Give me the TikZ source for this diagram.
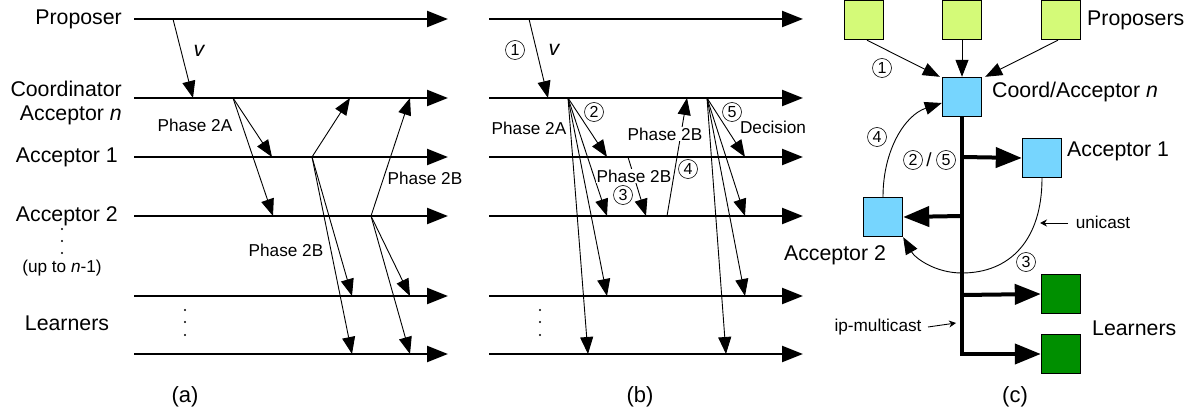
\documentclass[tikz,border=0pt]{standalone}
\usepackage{fontspec}
\setmainfont{Liberation Sans}
\usetikzlibrary{arrows.meta}
\definecolor{propc}{HTML}{D4FA78}
\definecolor{accc}{HTML}{76D5FE}
\definecolor{learnc}{HTML}{008F00}
\begin{document}
\begin{tikzpicture}[x=1pt,y=-1pt,
  tl/.style={line width=2.4pt,-{Triangle[length=21pt,width=16pt]}},
  msg/.style={line width=0.9pt,-{Triangle[length=17pt,width=13pt]}},
  bus/.style={line width=4pt},
  busarr/.style={line width=4pt,-{Triangle[length=26pt,width=20pt]}},
  thin/.style={line width=0.9pt,-{Stealth[length=7pt,width=7pt]}},
  lbl/.style={font=\fontsize{21.3}{25}\selectfont,inner sep=0pt},
  sm/.style={font=\fontsize{17.2}{20}\selectfont,inner sep=0pt},
  cn/.style={circle,draw,line width=0.6pt,minimum size=19pt,inner sep=0pt,font=\fontsize{16}{18}\selectfont},
  wl/.style={sm,fill=white,inner sep=1pt},
  box/.style={draw,line width=1.4pt,minimum size=39pt,inner sep=0pt},
  dot/.style={fill,circle,inner sep=0pt,minimum size=2.4pt}]
\useasboundingbox (0,0) rectangle (1197,414);
% ---------------- timelines (a) and (b)
\foreach \n/\y in {0/19,1/98,2/157,3/216,4/296,5/354}{
  \coordinate (aL\n) at (134,\y); \coordinate (aR\n) at (448,\y);
  \coordinate (bL\n) at (489,\y); \coordinate (bR\n) at (803,\y);
  \draw[tl] (aL\n) -- (aR\n);
  \draw[tl] (bL\n) -- (bR\n);
}
% row labels
\node[lbl,anchor=east] (lprop) at (122,19) {Proposer};
\node[lbl,anchor=east,align=right] (lcoord) at (122,103) {Coordinator\\[-1pt]Acceptor \textit{n}};
\node[lbl,anchor=east] (lacc1) at (118,157) {Acceptor 1};
\node[lbl,anchor=east] (lacc2) at (118,216) {Acceptor 2};
\node[dot] (d1) at (62,229) {}; \node[dot] (d2) at (62,241) {}; \node[dot] (d3) at (62,253) {};
\node[sm] (lupto) at (62,268) {(up to \textit{n}-1)};
\node[lbl] (llearn) at (67,323) {Learners};
% ---------------- panel (a)
\coordinate (av0) at (173,19); \coordinate (av1) at (193,98);
\draw[msg] (av0) -- (av1);
\node[lbl,font=\itshape\fontsize{21.3}{25}\selectfont] (av) at (199,51) {v};
\coordinate (a2a) at (233,98);
\coordinate (a2a1) at (272,157); \coordinate (a2a2) at (273,216);
\draw[msg] (a2a) -- (a2a1);
\draw[msg] (a2a) -- (a2a2);
\node[sm] (aph2a) at (195,125) {Phase 2A};
\coordinate (ab1) at (312,157);
\draw[msg] (ab1) -- (350,98) coordinate (ab1c);
\draw[msg] (ab1) -- (352,296) coordinate (ab1l1);
\draw[msg] (ab1) -- (352,354) coordinate (ab1l2);
\coordinate (ab2) at (371,216);
\draw[msg] (ab2) -- (410,98) coordinate (ab2c);
\draw[msg] (ab2) -- (410,296) coordinate (ab2l1);
\draw[msg] (ab2) -- (410,354) coordinate (ab2l2);
\node[sm] (aph2b1) at (425,178) {Phase 2B};
\node[sm] (aph2b2) at (286,250) {Phase 2B};
\node[dot] (ad1) at (185,310) {}; \node[dot] (ad2) at (185,322) {}; \node[dot] (ad3) at (185,335) {};
\node[lbl,font=\fontsize{22}{26}\selectfont] (capa) at (185,397) {(a)};
% ---------------- panel (b)
\coordinate (bv0) at (529,19); \coordinate (bv1) at (548,98);
\draw[msg] (bv0) -- (bv1);
\node[cn] (bn1) at (515,50) {1};
\node[lbl,font=\itshape\fontsize{21.3}{25}\selectfont] (bv) at (554,50) {v};
\coordinate (b2a) at (568,98);
\draw[msg] (b2a) -- (607,157) coordinate (b2a1);
\draw[msg] (b2a) -- (607,216) coordinate (b2a2);
\draw[msg] (b2a) -- (607,296) coordinate (b2a3);
\draw[msg] (b2a) -- (588,354) coordinate (b2a4);
\node[cn] (bn2) at (594,112) {2};
\node[sm] (bph2a) at (529,128) {Phase 2A};
\coordinate (b3s) at (628,157); \coordinate (b3e) at (646,216);
\draw[msg] (b3s) -- (b3e);
\node[wl] (bph2b3) at (634,176) {Phase 2B};
\node[cn] (bn3) at (623,195) {3};
\coordinate (b4s) at (667,216); \coordinate (b4e) at (687,98);
\draw[msg] (b4s) -- (b4e);
\node[wl] (bph2b4) at (665,134) {Phase 2B};
\node[cn] (bn4) at (688,169) {4};
\coordinate (b5) at (707,98);
\draw[msg] (b5) -- (745,157) coordinate (b51);
\draw[msg] (b5) -- (745,216) coordinate (b52);
\draw[msg] (b5) -- (745,296) coordinate (b53);
\draw[msg] (b5) -- (726,354) coordinate (b54);
\node[cn] (bn5) at (732,112) {5};
\node[sm] (bdec) at (773,127) {Decision};
\node[dot] (bd1) at (540,310) {}; \node[dot] (bd2) at (540,322) {}; \node[dot] (bd3) at (540,335) {};
\node[lbl,font=\fontsize{22}{26}\selectfont] (capb) at (640,397) {(b)};
% ---------------- panel (c)
\node[box,fill=propc] (p1) at (864,20) {};
\node[box,fill=propc] (p2) at (962,20) {};
\node[box,fill=propc] (p3) at (1061,20) {};
\node[lbl,anchor=west] (lprops) at (1087,20) {Proposers};
\node[box,fill=accc] (co) at (962,97) {};
\node[lbl,anchor=west] (lco) at (992,92) {Coord/Acceptor \textit{n}};
\node[box,fill=accc] (c1) at (1042,158) {};
\node[lbl,anchor=west] (lc1) at (1067,151) {Acceptor 1};
\node[box,fill=accc] (c2) at (883,217) {};
\node[lbl] (lc2) at (835,255) {Acceptor 2};
\node[box,fill=learnc] (l1) at (1061,294) {};
\node[box,fill=learnc] (l2) at (1061,354) {};
\node[lbl,anchor=west] (llc) at (1092,328) {Learners};
\draw[msg] ([xshift=3pt]p1.south) -- ([xshift=-2pt]co.north west);
\draw[msg] (p2.south) -- (co.north);
\draw[msg] ([xshift=-3pt]p3.south) -- ([xshift=3pt]co.north east);
\node[cn] (cn1) at (882,68) {1};
% bus
\coordinate (bj1) at (962,157);
\coordinate (bj2) at (962,216);
\coordinate (bj3) at (962,295);
\coordinate (bj4) at (962,354);
\draw[bus] (co.south) -- (bj4);
\draw[busarr] ([xshift=-2pt]bj4) -- (l2.west);
\draw[busarr] (bj1) -- (c1.west);
\draw[busarr] (bj2) -- (c2.east);
\draw[busarr] (bj3) -- (l1.west);
\node[cn] (cn2) at (913,160) {2};
\node[sm,font=\fontsize{19}{22}\selectfont] (cnsl) at (929,160) {/};
\node[cn] (cn5) at (946,160) {5};
% unicast curves
\draw[msg] (c2.north) .. controls (883,150) and (905,115) .. ([yshift=-6pt]co.west);
\node[cn] (cn4) at (877,137) {4};
\draw[msg] (c1.south) .. controls (1042,240) and (1010,273) .. (962,273)
   .. controls (935,273) and (915,258) .. (c2.south east);
\node[cn] (cn3) at (1026,262) {3};
\node[sm] (uni) at (1103,222) {unicast};
\coordinate (unia) at (1068,223); \coordinate (unib) at (1040,223);
\draw[thin] (unia) -- (unib);
\node[sm] (ipm) at (878,327) {ip-multicast};
\coordinate (ipa) at (928,327); \coordinate (ipb) at (956,323);
\draw[thin] (ipa) -- (ipb);
\node[lbl,font=\fontsize{22}{26}\selectfont] (capc) at (1015,397) {(c)};
\end{tikzpicture}
\end{document}
